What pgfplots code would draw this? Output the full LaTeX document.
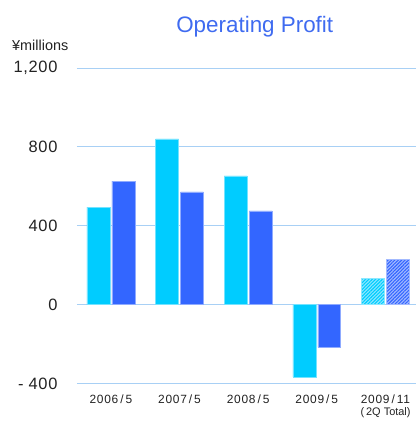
\documentclass[border=0pt]{standalone}
\usepackage{pgfplots}
\pgfplotsset{compat=1.18}
\usetikzlibrary{patterns.meta}
\usepackage{fontspec}
\setmainfont{Liberation Sans}
\definecolor{lightbar}{HTML}{00CCFF}
\definecolor{darkbar}{HTML}{3366FF}
\definecolor{gridc}{HTML}{A8D0F5}
\definecolor{titlec}{HTML}{3F6BF0}
\definecolor{txt}{HTML}{222222}
\begin{document}
\begin{tikzpicture}
\begin{axis}[
  at={(0,0)}, anchor=south west,
  scale only axis,
  width=339bp, height=316bp,
  xmin=-0.495, xmax=4.44,
  ymin=-400, ymax=1200,
  axis line style={draw=none},
  ymajorgrids, grid style={gridc, line width=0.8pt},
  ytick={-400,0,400,800,1200},
  yticklabels={- 400,0,400,800,{1,200}},
  xtick={0,1,2,3,4},
  xticklabels={2006\,/\,5,2007\,/\,5,2008\,/\,5,2009\,/\,5,2009\,/\,11},
  major tick length=0pt,
  /pgf/number format/assume math mode=true,
  yticklabel style={font=\fontsize{16.5}{17}\selectfont\addfontfeatures{LetterSpace=4}, text=txt, anchor=east, xshift=-16bp},
  xticklabel style={font=\fontsize{12}{13}\selectfont\addfontfeatures{LetterSpace=6}, text=txt, yshift=-8bp},
  ybar, bar width=23bp,
  enlargelimits=false,
  clip=false,
]
\addplot[fill=lightbar, draw=lightbar!55!white, line width=0.5pt, bar shift=-12.5bp]
  coordinates {(0,495) (1,840) (2,653) (3,-366)};
\addplot[fill=darkbar, draw=darkbar!55!white, line width=0.5pt, bar shift=12.5bp]
  coordinates {(0,626) (1,572) (2,476) (3,-216)};
\addplot[fill=lightbar!45!white, draw=lightbar!45!white, line width=0.5pt, bar shift=-12.5bp,
  postaction={pattern={Lines[angle=45,distance=2.4bp,line width=1.1bp]}, pattern color=lightbar}]
  coordinates {(4,132)};
\addplot[fill=darkbar!45!white, draw=darkbar!45!white, line width=0.5pt, bar shift=12.5bp,
  postaction={pattern={Lines[angle=45,distance=2.4bp,line width=1.1bp]}, pattern color=darkbar}]
  coordinates {(4,228)};
\end{axis}
\node[font=\fontsize{22.5}{24}\selectfont, text=titlec] at (178bp,357bp) {Operating Profit};
\node[font=\fontsize{14.5}{16}\selectfont, text=txt, anchor=west, inner sep=0pt] at (-65bp,339bp) {¥millions};
\node[font=\fontsize{11}{12}\selectfont, text=txt] at (309bp,-29bp) {(\,2Q Total)};
\path[use as bounding box] (-77bp,-37bp) rectangle (339bp,384bp);
\end{tikzpicture}
\end{document}
